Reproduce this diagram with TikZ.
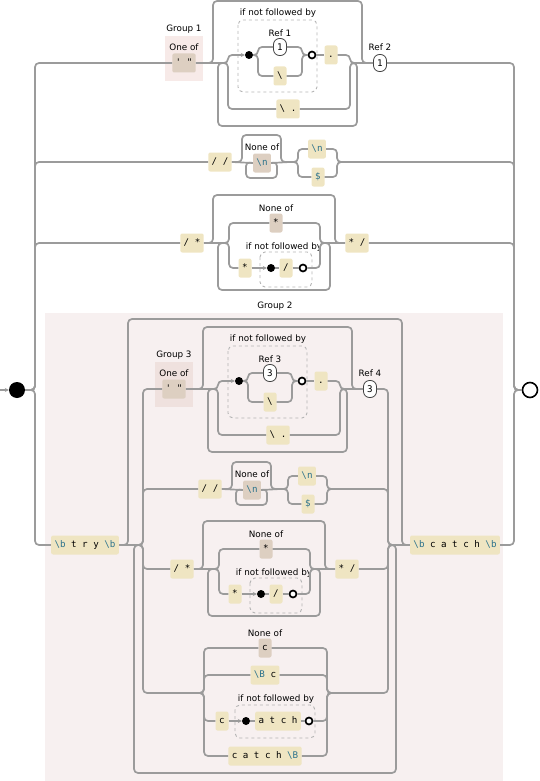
\documentclass[tikz,border=0pt]{standalone}
\usepackage{fontspec}
\setmainfont{DejaVu Sans}
\newfontfamily\monof{DejaVu Sans Mono}
\usetikzlibrary{arrows.meta}
\definecolor{linec}{RGB}{155,155,155}
\definecolor{dashc}{RGB}{180,180,180}
\definecolor{litc}{RGB}{239,229,194}
\definecolor{clsc}{RGB}{221,207,193}
\definecolor{escc}{RGB}{45,115,140}
\definecolor{gonebg}{RGB}{247,234,232}
\definecolor{gtwobg}{RGB}{247,240,240}
\definecolor{gthreebg}{RGB}{239,225,222}
\newcommand\esc[1]{\textcolor{escc}{#1}}
\newcommand\bsl{\textbackslash}
\tikzset{
 rr/.style={draw=linec, line width=1.7pt, rounded corners=4pt},
 arr/.style={rr, -{Stealth[length=4pt,width=4pt]}},
 lbl/.style={font=\fontsize{8.8}{10}\selectfont, inner sep=0pt},
 lit/.style={fill=litc, rounded corners=2pt, inner xsep=3.4pt, inner ysep=0pt, minimum height=19pt, minimum width=13pt, font=\monof\fontsize{9.2}{10}\selectfont, text height=7pt, text depth=2pt},
 cls/.style={lit, fill=clsc},
 refo/.style={draw=black!75, line width=0.8pt, fill=white, rounded corners=6pt, minimum width=13pt, minimum height=17pt, inner sep=0pt, font=\monof\fontsize{9.2}{10}\selectfont},
 dotf/.style={circle, fill=black, minimum size=8pt, inner sep=0pt},
 doto/.style={circle, draw=black, line width=1.7pt, fill=white, minimum size=7pt, inner sep=0pt},
 look/.style={draw=dashc, line width=0.9pt, dash pattern=on 3pt off 3pt, rounded corners=5pt},
}
% #1 prefix, #2 group no, #3 inner ref no, #4 outer ref no, #5 ref digit, #6 bg colour
\newcommand\RowA[6]{%
 \fill[#6] (165,36) rectangle (203,81);
 \draw[look] (238,20) rectangle (317,92);
 \node[lbl] (#1gl) at (184,29) {Group #2};
 \node[lbl] (#1ol) at (184,47) {One of};
 \node[cls] (#1cb) at (184,63) {\char"27\ \char"22};
 \node[lbl] (#1ll) at (278,13) {if not followed by};
 \node[dotf] (#1da) at (249,55) {};
 \node[lbl] (#1rl) at (280,33) {Ref #3};
 \node[refo] (#1ra) at (280,47) {#5};
 \node[lit] (#1bs) at (280,76) {\bsl};
 \node[doto] (#1db) at (312,55) {};
 \node[lit] (#1pt) at (331,55) {.};
 \node[lit] (#1bp) at (288,109) {\bsl\ .};
 \node[lbl] (#1rbl) at (380,47) {Ref #4};
 \node[refo] (#1rb) at (380,63) {#5};
 \draw[rr] (#1cb.east) -- (213,63) -- (213,1) -- (362,1) -- (362,63) -- (#1rb.west);
 \draw[rr] (#1cb.east) -- (224,63);
 \draw[rr] (354,63) -- (#1rb.west);
 \draw[rr] (353,63) -- (357,63) -- (357,126) -- (218,126) -- (218,63) -- (224,63);
 \draw[arr] (218,63) -- (228,63) -- (228,55) -- (#1da.west);
 \draw[rr] (218,63) -- (228,63) -- (228,109) -- (#1bp.west);
 \draw[rr] (#1da.east) -- (258,55) -- (258,47) -- (#1ra.west);
 \draw[rr] (#1da.east) -- (258,55) -- (258,76) -- (#1bs.west);
 \draw[rr] (#1ra.east) -- (302,47) -- (302,55) -- (#1db.west);
 \draw[rr] (#1bs.east) -- (302,76) -- (302,55) -- (#1db.west);
 \draw[rr] (#1db.east) -- (#1pt.west);
 \draw[rr] (#1pt.east) -- (350,55) -- (350,63) -- (358,63);
 \draw[rr] (#1bp.east) -- (350,109) -- (350,63) -- (358,63);
}
\newcommand\RowB[1]{%
 \node[lit] (#1ss) at (220,162) {/ /};
 \node[lbl] (#1nl) at (262,147) {None of};
 \node[cls] (#1nb) at (262,163) {\esc{\bsl n}};
 \node[lit] (#1nn) at (317,149) {\esc{\bsl n}};
 \node[lit] (#1dl) at (318,177) {\esc{\$}};
 \coordinate (#1out) at (343,162);
 \draw[rr] (#1ss.east) -- (242,162) -- (242,135) -- (281,135) -- (281,162) -- (290,162);
 \draw[rr] (#1ss.east) -- (#1nb.west);
 \draw[rr] (#1nb.east) -- (290,162);
 \draw[rr] (#1nb.east) -- (277,162) -- (277,178) -- (246,178) -- (246,162) -- (#1nb.west);
 \draw[rr] (283,162) -- (298,162) -- (298,149) -- (#1nn.west);
 \draw[rr] (283,162) -- (298,162) -- (298,177) -- (#1dl.west);
 \draw[rr] (#1nn.east) -- (337,149) -- (337,162) -- (#1out);
 \draw[rr] (#1dl.east) -- (337,177) -- (337,162) -- (#1out);
}
\newcommand\RowC[1]{%
 \draw[look] (260,252) rectangle (312,287);
 \node[lit] (#1so) at (192,243) {/ *};
 \node[lbl] (#1nl) at (276,208) {None of};
 \node[cls] (#1nc) at (276,223) {*};
 \node[lit] (#1st) at (245,268) {*};
 \node[lbl] (#1ll) at (284,247) {if not followed by};
 \node[dotf] (#1da) at (271,268) {};
 \node[lit] (#1sl) at (286,268) {/};
 \node[doto] (#1db) at (303,268) {};
 \node[lit] (#1os) at (357,243) {* /};
 \draw[rr] (#1so.east) -- (213,243) -- (213,195) -- (335,195) -- (335,243) -- (#1os.west);
 \draw[rr] (#1so.east) -- (225,243);
 \draw[rr] (324,243) -- (#1os.west);
 \draw[rr] (324,243) -- (330,243) -- (330,290) -- (218,290) -- (218,243) -- (225,243);
 \draw[rr] (218,243) -- (229,243) -- (229,223) -- (#1nc.west);
 \draw[rr] (218,243) -- (229,243) -- (229,268) -- (#1st.west);
 \draw[arr] (#1st.east) -- (#1da.west);
 \draw[rr] (#1da.east) -- (#1sl.west);
 \draw[rr] (#1sl.east) -- (#1db.west);
 \draw[rr] (#1nc.east) -- (320,223) -- (320,243) -- (328,243);
 \draw[rr] (#1db.east) -- (320,268) -- (320,243) -- (328,243);
}
\begin{document}
\begin{tikzpicture}[x=1pt,y=-1pt]
\useasboundingbox (0,0) rectangle (540,781);
\fill[gtwobg] (45,313) rectangle (503,781);
\node[lbl] (gtl) at (275,306) {Group 2};
\begin{scope}\RowA{ra}{1}{1}{2}{1}{gonebg}\end{scope}
\begin{scope}\RowB{rb}\end{scope}
\begin{scope}\RowC{rc}\end{scope}
\begin{scope}[shift={(-10,326)}]\RowA{ga}{3}{3}{4}{3}{gthreebg}\end{scope}
\begin{scope}[shift={(-10,327)}]\RowB{gb}\end{scope}
\begin{scope}[shift={(-10,326)}]\RowC{gc}\end{scope}
% branch d
\draw[look] (235,705) rectangle (315,738);
\node[lbl] (dnl) at (265,633) {None of};
\node[cls] (dnc) at (265,648) {c};
\node[lit] (dbc) at (265,675) {\esc{\bsl B} c};
\node[lit] (dc) at (222,721) {c};
\node[lbl] (dll) at (276,699) {if not followed by};
\node[dotf] (dda) at (246,721) {};
\node[lit] (datch) at (278,721) {a t c h};
\node[doto] (ddb) at (309,721) {};
\node[lit] (dcatch) at (265,756) {c a t c h \esc{\bsl B}};
% group 2 frame
\node[lit] (try) at (85,545) {\esc{\bsl b} t r y \esc{\bsl b}};
\node[lit] (catch) at (455,545) {\esc{\bsl b} c a t c h \esc{\bsl b}};
\draw[rr] (try.east) -- (128,545) -- (128,319) -- (402,319) -- (402,545) -- (catch.west);
\draw[rr] (392,545) -- (396,545) -- (396,773) -- (134,773) -- (134,545) -- (139,545);
\draw[rr] (try.east) -- (143,545) -- (143,389) -- (gacb.west);
\draw[rr] (try.east) -- (143,545) -- (143,489) -- (gbss.west);
\draw[rr] (try.east) -- (143,545) -- (143,569) -- (gcso.west);
\draw[rr] (try.east) -- (143,545) -- (143,693) -- (204,693) -- (204,648) -- (dnc.west);
\draw[rr] (170,693) -- (204,693) -- (204,675) -- (dbc.west);
\draw[rr] (170,693) -- (204,693) -- (204,721) -- (dc.west);
\draw[rr] (170,693) -- (204,693) -- (204,756) -- (dcatch.west);
\draw[arr] (dc.east) -- (dda.west);
\draw[rr] (dda.east) -- (datch.west);
\draw[rr] (datch.east) -- (ddb.west);
\draw[rr] (dnc.east) -- (327,648) -- (327,693) -- (388,693) -- (388,545) -- (catch.west);
\draw[rr] (dbc.east) -- (327,675) -- (327,693) -- (360,693);
\draw[rr] (ddb.east) -- (327,721) -- (327,693) -- (360,693);
\draw[rr] (dcatch.east) -- (327,756) -- (327,693) -- (360,693);
\draw[rr] (garb.east) -- (388,389) -- (388,545) -- (catch.west);
\draw[rr] (gbout) -- (388,489) -- (388,545) -- (catch.west);
\draw[rr] (gcos.east) -- (388,569) -- (388,545) -- (catch.west);
% outer
\node[circle, fill=black, minimum size=16pt, inner sep=0pt] (st) at (17,390) {};
\node[circle, draw=black, line width=1.6pt, fill=white, minimum size=15pt, inner sep=0pt] (en) at (530,390) {};
\coordinate (in) at (0,390);
\draw[arr] (in) -- (st.west);
\draw[rr] (st.east) -- (35,390) -- (35,63) -- (racb.west);
\draw[rr] (st.east) -- (35,390) -- (35,162) -- (rbss.west);
\draw[rr] (st.east) -- (35,390) -- (35,243) -- (rcso.west);
\draw[rr] (st.east) -- (35,390) -- (35,545) -- (try.west);
\draw[rr] (rarb.east) -- (514,63) -- (514,390) -- (en.west);
\draw[rr] (rbout) -- (514,162) -- (514,390) -- (en.west);
\draw[rr] (rcos.east) -- (514,243) -- (514,390) -- (en.west);
\draw[rr] (catch.east) -- (514,545) -- (514,390) -- (en.west);
\end{tikzpicture}
\end{document}
